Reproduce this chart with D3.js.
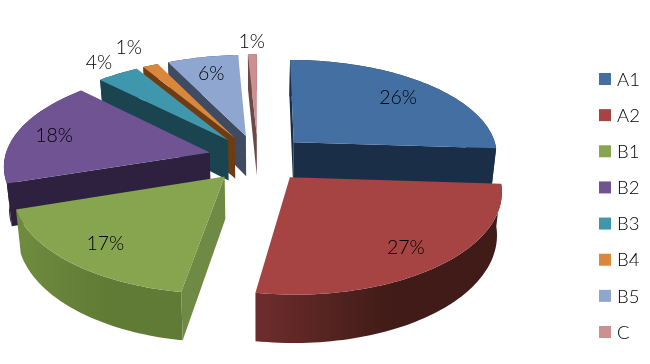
<!DOCTYPE html>
<html>
<head>
<meta charset="utf-8">
<script src="https://cdn.jsdelivr.net/npm/d3@7"></script>
<style>
  html, body { margin: 0; padding: 0; background: #fff; }
  svg { display: block; will-change: transform; }
  text { font-family: Lato, "Open Sans", sans-serif; font-weight: 300; fill: #000; }
</style>
</head>
<body>
<div id="chart"></div>
<script>
// labels are the rounded values
var categories = ["A1", "A2", "B1", "B2", "B3", "B4", "B5", "C"];
var values = [26.0, 26.6, 17.4, 17.6, 3.8, 1.4, 6.4, 0.8];

var topColors = ["#446fa3", "#a64443", "#87a44e", "#6f5392", "#3f97ae", "#da873c", "#8fa6d0", "#cd9091"];
var wallColors = ["#1a2e48", "#6a2b2b", "#6f8a45", "#2e2140", "#1a4450", "#6e3c12", "#3f4b61", "#6e4849"];
var rimLeft = ["#1a2e48", "#6e2d2d", "#6f8c3e", "#32244a", "#1a4450", "#6e3c12", "#3f4b61", "#6e4849"];
var rimRight = ["#1a2e48", "#401b17", "#607b35", "#2a1d38", "#1a4450", "#6e3c12", "#3f4b61", "#6e4849"];

// how far out each label sits, as a share of the radius
var labelRadius = [0.77, 0.8, 0.79, 0.81, 1.19, 1.29, 0.78, 1.19];
// back to front
var drawOrder = [7, 6, 5, 4, 0, 3, 2, 1];

var w = 650;
var h = 364;

var radius = 205;
var explode = 50;
var vanishX = 258;
var horizonY = -654;
var eyeH = 812;
var perspBack = 0.000574;
var perspFront = 0.00059;

var svg = d3
  .select("#chart")
  .append("svg")
  .attr("width", w)
  .attr("height", h);

var defs = svg.append("defs");

function project(X, Y, z) {
  var s = 1 / (1 + (Y < 0 ? perspFront : perspBack) * Y);
  return [
    vanishX + X * s * (1 - 0.02 * z),
    horizonY + eyeH * s * (1 + 0.051 * z)
  ];
}

var pie = d3.pie().sort(null).value(function(d) { return d; });
var arcs = pie(values);
var line = d3.line().curve(d3.curveLinearClosed);

function sliceGeom(d) {
  var mid = (d.startAngle + d.endAngle) / 2;
  var ox = explode * Math.sin(mid);
  var oy = explode * Math.cos(mid);

  function at(r, a, z) {
    return project(ox + r * Math.sin(a), oy + r * Math.cos(a), z);
  }

  var n = Math.max(4, Math.ceil((d.endAngle - d.startAngle) * 40));
  var steps = d3.range(n + 1).map(function(i) {
    return d.startAngle + (d.endAngle - d.startAngle) * i / n;
  });

  return { mid: mid, at: at, steps: steps };
}

function wallVisible(tip, rim, tipLow, inner) {
  function side(p) {
    return (rim[0] - tip[0]) * (p[1] - tip[1]) - (rim[1] - tip[1]) * (p[0] - tip[0]);
  }
  return side(tipLow) * side(inner) < 0;
}

drawOrder.forEach(function(i) {
  var d = arcs[i];
  var g = sliceGeom(d);
  var slice = svg.append("g").attr("class", "slice " + categories[i]);

  var rimTop = g.steps.map(function(a) { return g.at(radius, a, 0); });
  var rimLow = g.steps.map(function(a) { return g.at(radius, a, 1); });
  var tip = g.at(0, 0, 0);
  var tipLow = g.at(0, 0, 1);
  var inner = g.at(radius * 0.6, g.mid, 0);

  var grad = defs
    .append("linearGradient")
    .attr("id", "rim" + i)
    .attr("x1", "0")
    .attr("x2", "1")
    .attr("y1", "0")
    .attr("y2", "0");
  grad.append("stop").attr("offset", "0").attr("stop-color", rimLeft[i]);
  grad.append("stop").attr("offset", "0.55").attr("stop-color", rimRight[i]);
  grad.append("stop").attr("offset", "1").attr("stop-color", rimRight[i]);

  slice
    .append("path")
    .attr("d", line(rimTop.concat(rimLow.slice().reverse())))
    .attr("fill", "url(#rim" + i + ")");

  [rimTop[0], rimTop[rimTop.length - 1]].forEach(function(rim, k) {
    var low = k === 0 ? rimLow[0] : rimLow[rimLow.length - 1];
    if (wallVisible(tip, rim, tipLow, inner)) {
      slice
        .append("path")
        .attr("d", line([tip, rim, low, tipLow]))
        .attr("fill", wallColors[i]);
    }
  });

  slice
    .append("path")
    .attr("d", line([tip].concat(rimTop)))
    .attr("fill", topColors[i]);
});

// percent labels
arcs.forEach(function(d, i) {
  var g = sliceGeom(d);
  var p = g.at(radius * labelRadius[i], g.mid, 0);
  svg
    .append("text")
    .attr("x", p[0])
    .attr("y", p[1])
    .attr("dy", "0.36em")
    .attr("text-anchor", "middle")
    .attr("font-size", 19.5)
    .text(d3.format(".0f")(values[i]) + "%");
});

// legend
var legendY = d3
  .scalePoint()
  .domain(categories)
  .range([79, 332]);

var legend = svg
  .selectAll("g.legendItem")
  .data(categories)
  .enter()
  .append("g")
  .attr("class", "legendItem")
  .attr("transform", function(d) {
    return "translate(599," + legendY(d) + ")";
  });

legend
  .append("rect")
  .attr("y", -6)
  .attr("width", 12)
  .attr("height", 12)
  .attr("fill", function(d, i) { return topColors[i]; });

legend
  .append("text")
  .attr("x", 18)
  .attr("dy", "0.36em")
  .attr("font-size", 18.5)
  .text(function(d) { return d; });
</script>
</body>
</html>
